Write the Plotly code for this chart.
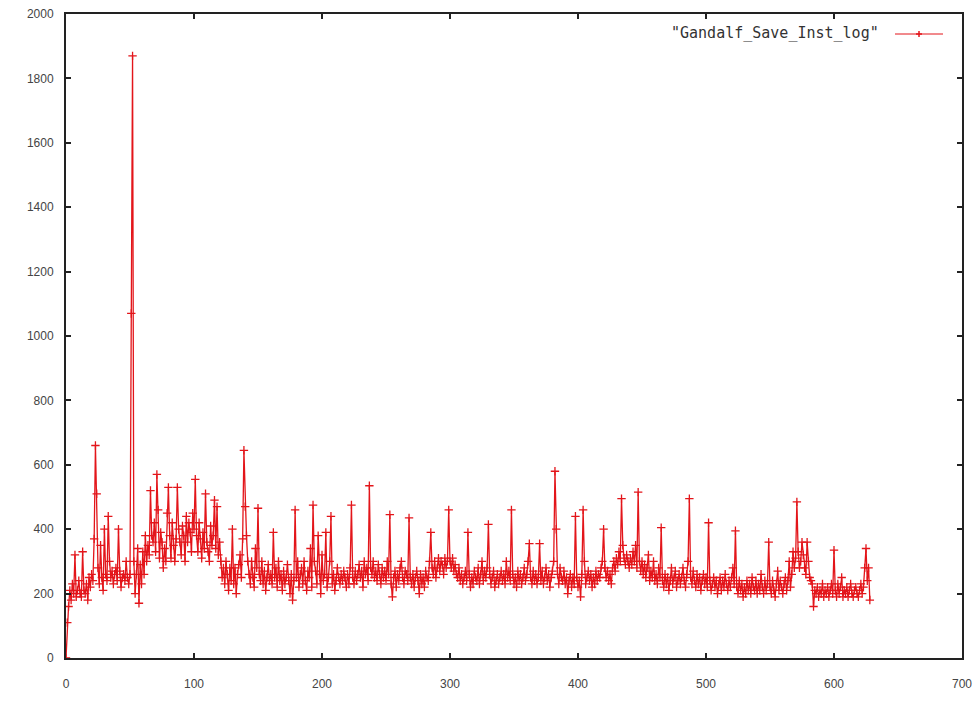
import plotly.graph_objects as go

series_name = '"Gandalf_Save_Inst_log"'

values = [
    0, 110, 160, 210, 180, 230, 200, 320, 190, 210,
    240, 200, 190, 330, 210, 200, 230, 180, 250, 220,
    260, 240, 370, 660, 510, 280, 230, 350, 250, 210,
    400, 260, 240, 440, 300, 250, 270, 230, 260, 280,
    240, 400, 270, 220, 250, 260, 240, 300, 250, 230,
    260, 1070, 1870, 300, 200, 260, 340, 170, 290, 230,
    330, 260, 380, 300, 350, 320, 520, 380, 360, 420,
    330, 570, 460, 310, 390, 360, 280, 340, 300, 450,
    530, 380, 310, 420, 350, 300, 370, 530, 400, 360,
    320, 410, 380, 300, 440, 360, 420, 390, 330, 450,
    400, 555, 380, 330, 420, 370, 310, 390, 340, 510,
    360, 330, 300, 410, 350, 380, 490, 340, 470, 320,
    360, 300, 250, 280, 230, 300, 260, 210, 280, 240,
    400, 230, 280, 200, 260, 290, 320, 250, 370, 645,
    470, 380, 300, 260, 230, 300, 250, 220, 340, 280,
    465, 260, 240, 300, 230, 270, 210, 250, 290, 240,
    260, 230, 390, 250, 280, 220, 300, 240, 260, 210,
    270, 230, 250, 290, 240, 200, 260, 180, 240, 460,
    250, 300, 220, 260, 280, 230, 300, 240, 210, 270,
    250, 340, 220, 475, 300, 270, 230, 380, 260, 200,
    320, 240, 260, 390, 220, 250, 300, 440, 230, 260,
    210, 240, 280, 250, 230, 260, 240, 270, 250, 220,
    260, 230, 280, 475, 250, 230, 270, 240, 260, 290,
    250, 270, 220, 300, 260, 280, 240, 535, 280, 260,
    300, 250, 270, 240, 290, 260, 230, 280, 250, 270,
    240, 300, 260, 445, 230, 190, 250, 270, 220, 260,
    240, 280, 300, 250, 230, 270, 260, 240, 435, 250,
    230, 260, 220, 250, 270, 240, 200, 260, 230, 250,
    220, 270, 250, 240, 300, 390, 280, 260, 300, 250,
    280, 310, 270, 300, 290, 260, 310, 280, 300, 460,
    300, 280, 310, 270, 290, 260, 250, 280, 240, 260,
    230, 250, 270, 240, 390, 260, 220, 250, 230, 270,
    250, 240, 280, 230, 260, 300, 240, 270, 250, 280,
    415, 260, 230, 250, 270, 220, 240, 260, 230, 250,
    270, 240, 260, 230, 300, 250, 270, 240, 460, 260,
    230, 250, 220, 270, 240, 260, 230, 250, 280, 240,
    260, 300, 355, 250, 230, 270, 240, 260, 230, 250,
    355, 240, 270, 230, 250, 280, 240, 260, 220, 250,
    270, 300, 580, 400, 260, 230, 280, 250, 240, 270,
    230, 250, 200, 240, 260, 220, 250, 230, 440, 250,
    220, 240, 190, 260, 460, 300, 230, 250, 270, 240,
    260, 220, 250, 230, 270, 240, 260, 250, 280, 300,
    400, 280, 250, 270, 240, 260, 230, 280, 300, 270,
    310, 290, 330, 300, 495, 350, 310, 290, 320, 300,
    280, 310, 290, 330, 300, 350, 280, 515, 300, 270,
    300, 260, 290, 250, 280, 320, 240, 270, 250, 300,
    240, 260, 230, 280, 250, 405, 240, 220, 260, 230,
    250, 210, 240, 280, 230, 250, 270, 220, 240, 260,
    230, 250, 280, 240, 220, 260, 300, 495, 250, 230,
    270, 240, 220, 260, 230, 250, 210, 240, 260, 230,
    250, 220, 420, 240, 210, 230, 250, 220, 240, 200,
    230, 250, 210, 240, 220, 260, 230, 210, 240, 220,
    250, 280, 230, 395, 220, 200, 240, 210, 230, 190,
    220, 200, 240, 210, 230, 200, 250, 220, 210, 240,
    200, 230, 210, 260, 220, 200, 240, 210, 230, 360,
    220, 200, 240, 210, 190, 230, 270, 210, 240, 220,
    200, 230, 250, 210, 240, 300, 220, 260, 330, 280,
    310, 485, 330, 280, 300, 360, 320, 280, 260, 360,
    300, 250, 240, 230, 160, 210, 200, 220, 190, 210,
    200, 230, 190, 210, 200, 220, 190, 210, 230, 200,
    335, 210, 190, 230, 200, 220, 250, 190, 210, 200,
    220, 190, 210, 230, 200, 190, 210, 220, 200, 190,
    210, 230, 200, 220, 280, 340, 240, 280, 180,
]
x_index = list(range(len(values)))

x_ticks = [0, 100, 200, 300, 400, 500, 600, 700]
y_ticks = [0, 200, 400, 600, 800, 1000, 1200, 1400, 1600, 1800, 2000]

RED = "#e3151a"
AXIS = "#222222"

fig = go.Figure()
fig.add_trace(go.Scatter(
    x=x_index, y=values, mode="lines+markers", name=series_name,
    line=dict(color=RED, width=1.3),
    marker=dict(symbol="cross-thin", size=6, line=dict(color=RED, width=1.3), color=RED),
    showlegend=False,
))

axis_common = dict(
    showline=True, linecolor=AXIS, linewidth=2, mirror="ticks",
    ticks="inside", ticklen=5, tickwidth=2, tickcolor=AXIS,
    showgrid=False, zeroline=False, automargin=False, ticklabeloverflow="allow",
    tickfont=dict(family="Liberation Sans, Arial, sans-serif", size=12, color="#444444"),
)

fig.update_layout(
    width=976, height=701,
    margin=dict(l=66, r=14, t=14, b=43),
    paper_bgcolor="white", plot_bgcolor="white",
    xaxis=dict(range=[0, 700], tickvals=x_ticks, ticktext=[str(v) for v in x_ticks],
               ticklabelstandoff=14, **axis_common),
    yaxis=dict(range=[0, 2000], tickvals=y_ticks, ticktext=[str(v) for v in y_ticks],
               ticklabelstandoff=8, **axis_common),
)

PW, PH = 896, 644  # plot box size in px

# gnuplot-style key: text then line sample with point on the right
fig.add_annotation(
    xref="paper", yref="paper", x=(881 - 66) / PW, y=(658 - 33) / PH,
    xanchor="right", yanchor="middle", showarrow=False,
    text=series_name,
    font=dict(family="DejaVu Sans Mono, monospace", size=15, color="#333333"),
)
x0p, x1p = (895 - 66) / PW, (943 - 66) / PW
yp = (658 - 34) / PH
fig.add_shape(type="line", xref="paper", yref="paper", x0=x0p, x1=x1p, y0=yp, y1=yp,
              line=dict(color=RED, width=1))
xm = (x0p + x1p) / 2
fig.add_shape(type="line", xref="paper", yref="paper", x0=xm - 3 / PW, x1=xm + 3 / PW,
              y0=yp, y1=yp, line=dict(color=RED, width=1.5))
fig.add_shape(type="line", xref="paper", yref="paper", x0=xm, x1=xm,
              y0=yp - 3 / PH, y1=yp + 3 / PH, line=dict(color=RED, width=1.5))

fig.write_html("out.html", config={"displayModeBar": False},
               post_script="document.body.style.margin='0';")
